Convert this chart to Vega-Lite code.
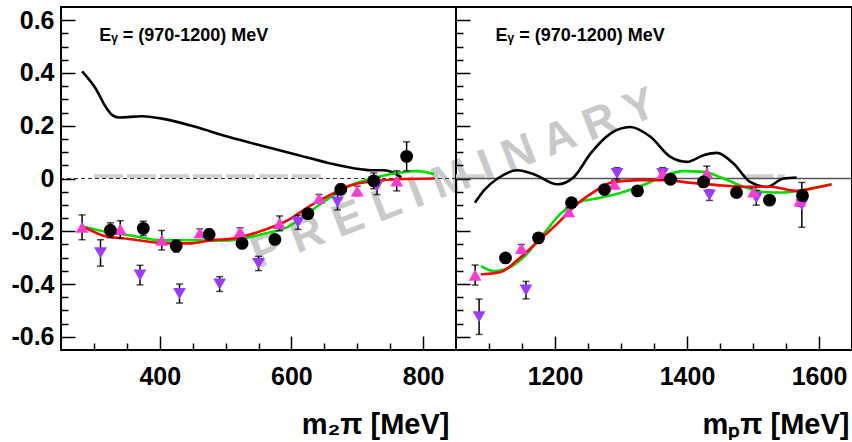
{
  "$schema": "https://vega.github.io/schema/vega-lite/v6.json",
  "background": "white",
  "padding": {"left": 5, "top": 6, "right": 0, "bottom": 0},
  "spacing": 0,
  "bounds": "flush",
  "config": {
    "font": "Liberation Sans",
    "view": {"stroke": "black", "strokeWidth": 2},
    "axis": {
      "grid": false, "domain": false, "tickColor": "black", "tickWidth": 1.5,
      "labelFont": "Liberation Sans", "labelFontWeight": "bold", "labelFontSize": 25, "labelColor": "black",
      "titleFont": "Liberation Sans", "titleFontWeight": "bold", "titleFontSize": 29, "titleColor": "black"
    }
  },
  "datasets": {
    "pts": [
      {"panel": "L", "series": "down", "m": 310, "v": -0.282, "e": 0.05},
      {"panel": "L", "series": "down", "m": 370, "v": -0.366, "e": 0.037},
      {"panel": "L", "series": "down", "m": 430, "v": -0.436, "e": 0.036},
      {"panel": "L", "series": "down", "m": 491, "v": -0.4, "e": 0.028},
      {"panel": "L", "series": "down", "m": 550, "v": -0.322, "e": 0.027},
      {"panel": "L", "series": "down", "m": 610, "v": -0.166, "e": 0.027},
      {"panel": "L", "series": "down", "m": 670, "v": -0.089, "e": 0.03},
      {"panel": "L", "series": "down", "m": 730, "v": -0.029, "e": 0.032},
      {"panel": "L", "series": "up", "m": 282, "v": -0.185, "e": 0.047},
      {"panel": "L", "series": "up", "m": 340, "v": -0.193, "e": 0.033},
      {"panel": "L", "series": "up", "m": 403, "v": -0.234, "e": 0.037},
      {"panel": "L", "series": "up", "m": 461, "v": -0.206, "e": 0.015},
      {"panel": "L", "series": "up", "m": 522, "v": -0.202, "e": 0.015},
      {"panel": "L", "series": "up", "m": 582, "v": -0.17, "e": 0.028},
      {"panel": "L", "series": "up", "m": 642, "v": -0.076, "e": 0.015},
      {"panel": "L", "series": "up", "m": 700, "v": -0.047, "e": 0.018},
      {"panel": "L", "series": "up", "m": 760, "v": -0.009, "e": 0.038},
      {"panel": "L", "series": "circle", "m": 325, "v": -0.196, "e": 0.028},
      {"panel": "L", "series": "circle", "m": 375, "v": -0.189, "e": 0.027},
      {"panel": "L", "series": "circle", "m": 425, "v": -0.256, "e": 0.023},
      {"panel": "L", "series": "circle", "m": 475, "v": -0.212, "e": 0.02},
      {"panel": "L", "series": "circle", "m": 525, "v": -0.246, "e": 0.015},
      {"panel": "L", "series": "circle", "m": 575, "v": -0.231, "e": 0.015},
      {"panel": "L", "series": "circle", "m": 625, "v": -0.133, "e": 0.015},
      {"panel": "L", "series": "circle", "m": 675, "v": -0.041, "e": 0.02},
      {"panel": "L", "series": "circle", "m": 725, "v": -0.009, "e": 0.03},
      {"panel": "L", "series": "circle", "m": 775, "v": 0.084, "e": 0.055},
      {"panel": "R", "series": "down", "m": 1085, "v": -0.524, "e": 0.067},
      {"panel": "R", "series": "down", "m": 1156, "v": -0.423, "e": 0.033},
      {"panel": "R", "series": "down", "m": 1294, "v": 0.019, "e": 0.022},
      {"panel": "R", "series": "down", "m": 1363, "v": 0.019, "e": 0.022},
      {"panel": "R", "series": "down", "m": 1434, "v": -0.063, "e": 0.02},
      {"panel": "R", "series": "down", "m": 1505, "v": -0.073, "e": 0.028},
      {"panel": "R", "series": "down", "m": 1574, "v": -0.1, "e": 0.085},
      {"panel": "R", "series": "up", "m": 1079, "v": -0.366, "e": 0.038},
      {"panel": "R", "series": "up", "m": 1149, "v": -0.265, "e": 0.015},
      {"panel": "R", "series": "up", "m": 1221, "v": -0.126, "e": 0.015},
      {"panel": "R", "series": "up", "m": 1290, "v": -0.022, "e": 0.015},
      {"panel": "R", "series": "up", "m": 1363, "v": 0.019, "e": 0.015},
      {"panel": "R", "series": "up", "m": 1430, "v": 0.021, "e": 0.026},
      {"panel": "R", "series": "up", "m": 1501, "v": -0.051, "e": 0.015},
      {"panel": "R", "series": "up", "m": 1571, "v": -0.085, "e": 0.02},
      {"panel": "R", "series": "circle", "m": 1125, "v": -0.301, "e": 0.015},
      {"panel": "R", "series": "circle", "m": 1175, "v": -0.225, "e": 0.015},
      {"panel": "R", "series": "circle", "m": 1225, "v": -0.092, "e": 0.015},
      {"panel": "R", "series": "circle", "m": 1275, "v": -0.042, "e": 0.015},
      {"panel": "R", "series": "circle", "m": 1325, "v": -0.047, "e": 0.015},
      {"panel": "R", "series": "circle", "m": 1375, "v": -0.003, "e": 0.015},
      {"panel": "R", "series": "circle", "m": 1425, "v": -0.013, "e": 0.015},
      {"panel": "R", "series": "circle", "m": 1475, "v": -0.053, "e": 0.015},
      {"panel": "R", "series": "circle", "m": 1525, "v": -0.082, "e": 0.015},
      {"panel": "R", "series": "circle", "m": 1575, "v": -0.065, "e": 0.02}
    ],
    "curves": [
      {"panel": "L", "model": "black", "m": 282, "v": 0.406},
      {"panel": "L", "model": "black", "m": 302.6, "v": 0.341},
      {"panel": "L", "model": "black", "m": 318, "v": 0.271},
      {"panel": "L", "model": "black", "m": 328, "v": 0.24},
      {"panel": "L", "model": "black", "m": 338, "v": 0.231},
      {"panel": "L", "model": "black", "m": 373, "v": 0.236},
      {"panel": "L", "model": "black", "m": 403.5, "v": 0.227},
      {"panel": "L", "model": "black", "m": 454, "v": 0.196},
      {"panel": "L", "model": "black", "m": 504, "v": 0.158},
      {"panel": "L", "model": "black", "m": 555, "v": 0.124},
      {"panel": "L", "model": "black", "m": 605, "v": 0.092},
      {"panel": "L", "model": "black", "m": 656, "v": 0.059},
      {"panel": "L", "model": "black", "m": 706, "v": 0.035},
      {"panel": "L", "model": "black", "m": 721, "v": 0.031},
      {"panel": "L", "model": "black", "m": 741, "v": 0.031},
      {"panel": "L", "model": "black", "m": 756, "v": 0.021},
      {"panel": "L", "model": "black", "m": 767, "v": 0.004},
      {"panel": "L", "model": "green", "m": 285, "v": -0.183},
      {"panel": "L", "model": "green", "m": 318, "v": -0.202},
      {"panel": "L", "model": "green", "m": 353, "v": -0.215},
      {"panel": "L", "model": "green", "m": 403.5, "v": -0.234},
      {"panel": "L", "model": "green", "m": 454, "v": -0.234},
      {"panel": "L", "model": "green", "m": 494, "v": -0.236},
      {"panel": "L", "model": "green", "m": 519.5, "v": -0.231},
      {"panel": "L", "model": "green", "m": 555, "v": -0.211},
      {"panel": "L", "model": "green", "m": 595, "v": -0.183},
      {"panel": "L", "model": "green", "m": 625.5, "v": -0.13},
      {"panel": "L", "model": "green", "m": 656, "v": -0.076},
      {"panel": "L", "model": "green", "m": 691, "v": -0.025},
      {"panel": "L", "model": "green", "m": 731, "v": 0.006},
      {"panel": "L", "model": "green", "m": 766, "v": 0.023},
      {"panel": "L", "model": "green", "m": 791.5, "v": 0.028},
      {"panel": "L", "model": "green", "m": 817, "v": 0.016},
      {"panel": "L", "model": "red", "m": 287, "v": -0.186},
      {"panel": "L", "model": "red", "m": 318, "v": -0.219},
      {"panel": "L", "model": "red", "m": 353, "v": -0.229},
      {"panel": "L", "model": "red", "m": 403.5, "v": -0.244},
      {"panel": "L", "model": "red", "m": 444, "v": -0.246},
      {"panel": "L", "model": "red", "m": 479, "v": -0.234},
      {"panel": "L", "model": "red", "m": 514, "v": -0.227},
      {"panel": "L", "model": "red", "m": 555, "v": -0.198},
      {"panel": "L", "model": "red", "m": 595, "v": -0.158},
      {"panel": "L", "model": "red", "m": 625.5, "v": -0.108},
      {"panel": "L", "model": "red", "m": 656, "v": -0.066},
      {"panel": "L", "model": "red", "m": 691, "v": -0.025},
      {"panel": "L", "model": "red", "m": 731, "v": -0.009},
      {"panel": "L", "model": "red", "m": 762, "v": -0.003},
      {"panel": "L", "model": "red", "m": 817, "v": 0.0},
      {"panel": "R", "model": "black", "m": 1078.7, "v": -0.092},
      {"panel": "R", "model": "black", "m": 1092.7, "v": -0.044},
      {"panel": "R", "model": "black", "m": 1113, "v": 0.0},
      {"panel": "R", "model": "black", "m": 1143, "v": 0.031},
      {"panel": "R", "model": "black", "m": 1168, "v": 0.016},
      {"panel": "R", "model": "black", "m": 1203.6, "v": -0.022},
      {"panel": "R", "model": "black", "m": 1228.7, "v": 0.006},
      {"panel": "R", "model": "black", "m": 1254, "v": 0.095},
      {"panel": "R", "model": "black", "m": 1284, "v": 0.17},
      {"panel": "R", "model": "black", "m": 1314, "v": 0.195},
      {"panel": "R", "model": "black", "m": 1344.6, "v": 0.158},
      {"panel": "R", "model": "black", "m": 1374.8, "v": 0.082},
      {"panel": "R", "model": "black", "m": 1400, "v": 0.063},
      {"panel": "R", "model": "black", "m": 1425, "v": 0.088},
      {"panel": "R", "model": "black", "m": 1445.3, "v": 0.097},
      {"panel": "R", "model": "black", "m": 1470.4, "v": 0.057},
      {"panel": "R", "model": "black", "m": 1495.6, "v": -0.013},
      {"panel": "R", "model": "black", "m": 1520.8, "v": -0.032},
      {"panel": "R", "model": "black", "m": 1546, "v": 0.0},
      {"panel": "R", "model": "black", "m": 1566, "v": 0.004},
      {"panel": "R", "model": "green", "m": 1087.8, "v": -0.332},
      {"panel": "R", "model": "green", "m": 1107.9, "v": -0.351},
      {"panel": "R", "model": "green", "m": 1128, "v": -0.341},
      {"panel": "R", "model": "green", "m": 1153, "v": -0.297},
      {"panel": "R", "model": "green", "m": 1183.4, "v": -0.208},
      {"panel": "R", "model": "green", "m": 1208.6, "v": -0.133},
      {"panel": "R", "model": "green", "m": 1233.8, "v": -0.092},
      {"panel": "R", "model": "green", "m": 1269, "v": -0.073},
      {"panel": "R", "model": "green", "m": 1304, "v": -0.051},
      {"panel": "R", "model": "green", "m": 1339.6, "v": -0.019},
      {"panel": "R", "model": "green", "m": 1364.6, "v": 0.01},
      {"panel": "R", "model": "green", "m": 1394.9, "v": 0.028},
      {"panel": "R", "model": "green", "m": 1425, "v": 0.025},
      {"panel": "R", "model": "green", "m": 1455.3, "v": 0.0},
      {"panel": "R", "model": "green", "m": 1485.5, "v": -0.031},
      {"panel": "R", "model": "green", "m": 1515.7, "v": -0.051},
      {"panel": "R", "model": "green", "m": 1546, "v": -0.053},
      {"panel": "R", "model": "green", "m": 1576, "v": -0.044},
      {"panel": "R", "model": "green", "m": 1619, "v": -0.022},
      {"panel": "R", "model": "red", "m": 1087.8, "v": -0.363},
      {"panel": "R", "model": "red", "m": 1118, "v": -0.354},
      {"panel": "R", "model": "red", "m": 1143, "v": -0.309},
      {"panel": "R", "model": "red", "m": 1173.4, "v": -0.24},
      {"panel": "R", "model": "red", "m": 1203.6, "v": -0.171},
      {"panel": "R", "model": "red", "m": 1228.7, "v": -0.107},
      {"panel": "R", "model": "red", "m": 1259, "v": -0.051},
      {"panel": "R", "model": "red", "m": 1284, "v": -0.016},
      {"panel": "R", "model": "red", "m": 1324.5, "v": -0.006},
      {"panel": "R", "model": "red", "m": 1364.6, "v": -0.006},
      {"panel": "R", "model": "red", "m": 1405, "v": -0.016},
      {"panel": "R", "model": "red", "m": 1445.3, "v": -0.025},
      {"panel": "R", "model": "red", "m": 1485.5, "v": -0.031},
      {"panel": "R", "model": "red", "m": 1525.8, "v": -0.031},
      {"panel": "R", "model": "red", "m": 1566, "v": -0.047},
      {"panel": "R", "model": "red", "m": 1596, "v": -0.034},
      {"panel": "R", "model": "red", "m": 1619, "v": -0.023}
    ]
  },
  "hconcat": [
    {
      "width": 395,
      "height": 343,
      "resolve": {"scale": {"color": "independent", "shape": "independent", "size": "independent"}, "axis": {"x": "independent", "y": "independent"}},
      "layer": [
        {
          "data": {"values": [{}]},
          "mark": {"type": "rule", "color": "#d0d0d0", "strokeWidth": 4, "strokeDash": [29, 4]},
          "encoding": {
            "x": {"datum": 300, "type": "quantitative", "scale": {"domain": [250, 850], "nice": false, "zero": false}, "axis": null},
            "x2": {"datum": 645},
            "y": {"datum": 0.009, "type": "quantitative", "scale": {"domain": [-0.65, 0.65], "nice": false, "zero": false}, "axis": null}
          }
        },
        {
          "data": {"values": [{}]},
          "mark": {"type": "text", "text": "P R E L I M I N A R Y", "font": "Liberation Sans", "fontWeight": "bold", "fontSize": 45, "color": "#c9c9c9", "angle": -21, "align": "center", "baseline": "middle"},
          "encoding": {
            "x": {"datum": 846, "type": "quantitative", "scale": {"domain": [250, 850], "nice": false, "zero": false}, "axis": null},
            "y": {"datum": 0, "type": "quantitative", "scale": {"domain": [-0.65, 0.65], "nice": false, "zero": false}, "axis": null}
          }
        },
        {
          "data": {"values": [{}]},
          "mark": {"type": "rule", "color": "#333333", "strokeWidth": 1.2, "strokeDash": [4, 3]},
          "encoding": {
            "y": {"datum": 0, "type": "quantitative", "scale": {"domain": [-0.65, 0.65], "nice": false, "zero": false}, "axis": null}
          }
        },
        {
          "data": {"name": "curves"},
          "transform": [{"filter": "datum.panel == 'L'"}],
          "mark": {"type": "line", "strokeWidth": 2.6, "interpolate": "monotone"},
          "encoding": {
            "x": {"field": "m", "type": "quantitative", "scale": {"domain": [250, 850], "nice": false, "zero": false}, "axis": null},
            "y": {"field": "v", "type": "quantitative", "scale": {"domain": [-0.65, 0.65], "nice": false, "zero": false}, "axis": null},
            "color": {"field": "model", "type": "nominal", "scale": {"domain": ["black", "green", "red"], "range": ["#000000", "#00dd00", "#ff0000"]}, "legend": null}
          }
        },
        {
          "data": {"name": "pts"},
          "transform": [{"filter": "datum.panel == 'L'"}],
          "mark": {"type": "errorbar", "color": "black", "thickness": 1.5, "ticks": {"size": 7}},
          "encoding": {
            "x": {"field": "m", "type": "quantitative", "scale": {"domain": [250, 850], "nice": false, "zero": false}, "axis": null},
            "y": {"field": "v", "type": "quantitative", "scale": {"domain": [-0.65, 0.65], "nice": false, "zero": false}, "axis": null},
            "yError": {"field": "e"}
          }
        },
        {
          "data": {"name": "pts"},
          "transform": [{"filter": "datum.panel == 'L'"}],
          "mark": {"type": "point", "filled": true, "opacity": 1, "strokeWidth": 0},
          "encoding": {
            "x": {"field": "m", "type": "quantitative", "scale": {"domain": [250, 850], "nice": false, "zero": false},
              "axis": {"orient": "bottom", "values": [300, 350, 400, 450, 500, 550, 600, 650, 700, 750, 800], "format": "d",
                "tickSize": {"condition": {"test": "datum.value % 200 == 0", "value": -14}, "value": -7},
                "labelExpr": "datum.value % 200 == 0 ? datum.label : ''",
                "labelPadding": 28, "labelFlush": false, "labelOverlap": false, "labelBound": false,
                "title": "m₂π [MeV]", "titleAlign": "right", "titleAnchor": "end", "titleX": 388, "titleY": 83, "titleBaseline": "alphabetic"}},
            "y": {"field": "v", "type": "quantitative", "scale": {"domain": [-0.65, 0.65], "nice": false, "zero": false},
              "axis": {"orient": "left", "values": [-0.6, -0.55, -0.5, -0.45, -0.4, -0.35, -0.3, -0.25, -0.2, -0.15, -0.1, -0.05, 0, 0.05, 0.1, 0.15, 0.2, 0.25, 0.3, 0.35, 0.4, 0.45, 0.5, 0.55, 0.6],
                "tickSize": {"condition": {"test": "abs(datum.value*5 - round(datum.value*5)) < 0.001", "value": -14}, "value": -7},
                "labelExpr": "abs(datum.value*5 - round(datum.value*5)) < 0.001 ? (abs(datum.value) < 0.001 ? '0' : (datum.value < 0 ? '-' : '') + format(abs(datum.value), '.1f')) : ''",
                "labelPadding": 21, "labelFlush": false, "labelOverlap": false, "labelBound": false,
                "title": null, "minExtent": 55, "maxExtent": 55}},
            "color": {"field": "series", "type": "nominal", "scale": {"domain": ["down", "up", "circle"], "range": ["#9b3bff", "#ff3ad2", "#000000"]}, "legend": null},
            "shape": {"field": "series", "type": "nominal", "scale": {"domain": ["down", "up", "circle"], "range": ["triangle-down", "triangle-up", "circle"]}, "legend": null},
            "size": {"field": "series", "type": "nominal", "scale": {"domain": ["down", "up", "circle"], "range": [165, 165, 135]}, "legend": null}
          }
        },
        {
          "data": {"values": [{}]},
          "mark": {"type": "text", "text": "Eᵧ = (970-1200) MeV", "font": "Liberation Sans", "fontWeight": "bold", "fontSize": 18, "align": "left", "baseline": "alphabetic", "color": "black"},
          "encoding": {
            "x": {"datum": 308, "type": "quantitative", "scale": {"domain": [250, 850], "nice": false, "zero": false}, "axis": null},
            "y": {"datum": 0.521, "type": "quantitative", "scale": {"domain": [-0.65, 0.65], "nice": false, "zero": false}, "axis": null}
          }
        }
      ]
    },
    {
      "width": 396,
      "height": 343,
      "resolve": {"scale": {"color": "independent", "shape": "independent", "size": "independent"}, "axis": {"x": "independent", "y": "independent"}},
      "layer": [
        {
          "data": {"values": [{"a": 1050, "b": 1103}, {"a": 1487, "b": 1548}]},
          "mark": {"type": "rule", "color": "#d0d0d0", "strokeWidth": 4, "strokeDash": [29, 4]},
          "encoding": {
            "x": {"field": "a", "type": "quantitative", "scale": {"domain": [1050, 1650], "nice": false, "zero": false}, "axis": null},
            "x2": {"field": "b"},
            "y": {"datum": 0.009, "type": "quantitative", "scale": {"domain": [-0.65, 0.65], "nice": false, "zero": false}, "axis": null}
          }
        },
        {
          "data": {"values": [{}]},
          "mark": {"type": "rule", "color": "#555555", "strokeWidth": 1.5},
          "encoding": {
            "y": {"datum": 0, "type": "quantitative", "scale": {"domain": [-0.65, 0.65], "nice": false, "zero": false}, "axis": null}
          }
        },
        {
          "data": {"name": "curves"},
          "transform": [{"filter": "datum.panel == 'R'"}],
          "mark": {"type": "line", "strokeWidth": 2.6, "interpolate": "monotone"},
          "encoding": {
            "x": {"field": "m", "type": "quantitative", "scale": {"domain": [1050, 1650], "nice": false, "zero": false}, "axis": null},
            "y": {"field": "v", "type": "quantitative", "scale": {"domain": [-0.65, 0.65], "nice": false, "zero": false}, "axis": null},
            "color": {"field": "model", "type": "nominal", "scale": {"domain": ["black", "green", "red"], "range": ["#000000", "#00dd00", "#ff0000"]}, "legend": null}
          }
        },
        {
          "data": {"name": "pts"},
          "transform": [{"filter": "datum.panel == 'R'"}],
          "mark": {"type": "errorbar", "color": "black", "thickness": 1.5, "ticks": {"size": 7}},
          "encoding": {
            "x": {"field": "m", "type": "quantitative", "scale": {"domain": [1050, 1650], "nice": false, "zero": false}, "axis": null},
            "y": {"field": "v", "type": "quantitative", "scale": {"domain": [-0.65, 0.65], "nice": false, "zero": false}, "axis": null},
            "yError": {"field": "e"}
          }
        },
        {
          "data": {"name": "pts"},
          "transform": [{"filter": "datum.panel == 'R'"}],
          "mark": {"type": "point", "filled": true, "opacity": 1, "strokeWidth": 0},
          "encoding": {
            "x": {"field": "m", "type": "quantitative", "scale": {"domain": [1050, 1650], "nice": false, "zero": false},
              "axis": {"orient": "bottom", "values": [1100, 1150, 1200, 1250, 1300, 1350, 1400, 1450, 1500, 1550, 1600], "format": "d",
                "tickSize": {"condition": {"test": "datum.value % 200 == 0", "value": -14}, "value": -7},
                "labelExpr": "datum.value % 200 == 0 ? datum.label : ''",
                "labelPadding": 28, "labelFlush": false, "labelOverlap": false, "labelBound": false,
                "title": "mₚπ [MeV]", "titleAlign": "right", "titleAnchor": "end", "titleX": 393, "titleY": 83, "titleBaseline": "alphabetic"}},
            "y": {"field": "v", "type": "quantitative", "scale": {"domain": [-0.65, 0.65], "nice": false, "zero": false},
              "axis": {"orient": "left", "values": [-0.6, -0.55, -0.5, -0.45, -0.4, -0.35, -0.3, -0.25, -0.2, -0.15, -0.1, -0.05, 0, 0.05, 0.1, 0.15, 0.2, 0.25, 0.3, 0.35, 0.4, 0.45, 0.5, 0.55, 0.6],
                "tickSize": {"condition": {"test": "abs(datum.value*5 - round(datum.value*5)) < 0.001", "value": -14}, "value": -7},
                "labels": false, "title": null}},
            "color": {"field": "series", "type": "nominal", "scale": {"domain": ["down", "up", "circle"], "range": ["#9b3bff", "#ff3ad2", "#000000"]}, "legend": null},
            "shape": {"field": "series", "type": "nominal", "scale": {"domain": ["down", "up", "circle"], "range": ["triangle-down", "triangle-up", "circle"]}, "legend": null},
            "size": {"field": "series", "type": "nominal", "scale": {"domain": ["down", "up", "circle"], "range": [165, 165, 135]}, "legend": null}
          }
        },
        {
          "data": {"values": [{}]},
          "mark": {"type": "text", "text": "Eᵧ = (970-1200) MeV", "font": "Liberation Sans", "fontWeight": "bold", "fontSize": 18, "align": "left", "baseline": "alphabetic", "color": "black"},
          "encoding": {
            "x": {"datum": 1110, "type": "quantitative", "scale": {"domain": [1050, 1650], "nice": false, "zero": false}, "axis": null},
            "y": {"datum": 0.521, "type": "quantitative", "scale": {"domain": [-0.65, 0.65], "nice": false, "zero": false}, "axis": null}
          }
        }
      ]
    }
  ]
}
